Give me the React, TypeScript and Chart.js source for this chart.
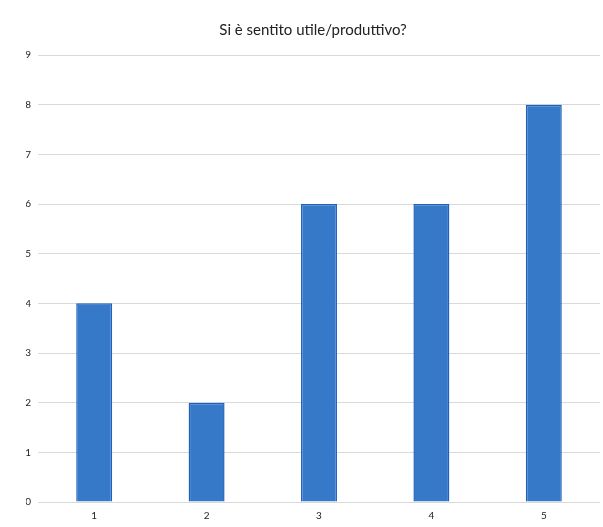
import React, { useEffect, useRef } from "react";
import { Chart, registerables } from "chart.js";

Chart.register(...registerables);

const TITLE = "Si è sentito utile/produttivo?";
const categories = ["1", "2", "3", "4", "5"];
const values = [4, 2, 6, 6, 8];
const yMin = 0;
const yMax = 9;

export default function App() {
  const ref = useRef<HTMLCanvasElement | null>(null);
  useEffect(() => {
    if (!ref.current) return;
    const chart = new Chart(ref.current, {
      type: "bar",
      data: {
        labels: categories,
        datasets: [
          {
            data: values,
            backgroundColor: "#3679C9",
            borderColor: "#1F62BE",
            borderWidth: 1.5,
            categoryPercentage: 1,
            barPercentage: 0.32,
          },
        ],
      },
      options: {
        animation: false,
        responsive: false,
        maintainAspectRatio: false,
        layout: { padding: { left: 26, right: 3, top: 0, bottom: 5 } },
        plugins: {
          legend: { display: false },
          tooltip: { enabled: false },
          title: {
            display: true,
            text: TITLE,
            color: "#222",
            font: { family: "Lato, 'Open Sans', sans-serif", size: 15, weight: "normal" },
            padding: { top: 21, bottom: 16 },
          },
        },
        scales: {
          x: {
            grid: { display: false, drawTicks: false },
            border: { display: false },
            ticks: {
              color: "#222",
              padding: 8,
              font: { family: "Lato, 'Open Sans', sans-serif", size: 10 },
            },
            afterFit: (scale: any) => {
              scale.height = 20;
            },
          },
          y: {
            min: yMin,
            max: yMax,
            grid: { color: "#d9d9d9", lineWidth: 1, drawTicks: false },
            border: { display: false },
            ticks: {
              stepSize: 1,
              color: "#222",
              padding: 7,
              font: { family: "Lato, 'Open Sans', sans-serif", size: 10 },
            },
            afterFit: (scale: any) => {
              scale.width = 12;
            },
          },
        },
      },
    });
    return () => chart.destroy();
  }, []);
  return (
    <div style={{ position: "fixed", left: 0, top: 0, width: 603, height: 527, background: "#fff" }}>
      <canvas ref={ref} width={603} height={527} style={{ width: 603, height: 527 }} />
    </div>
  );
}
